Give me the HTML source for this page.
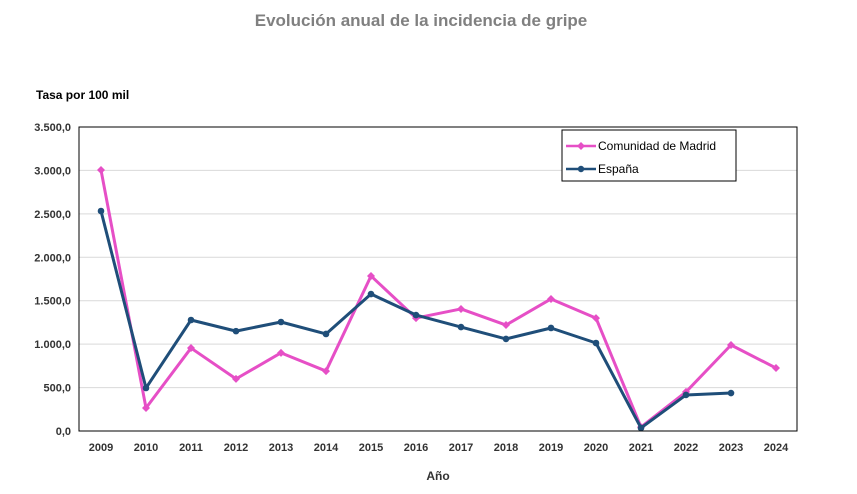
<!DOCTYPE html>
<html><head><meta charset="utf-8"><style>
body{margin:0;background:#fff;font-family:"Liberation Sans",Arial,sans-serif}
</style></head><body>
<svg id="c" width="857" height="489" font-family="Liberation Sans, Arial, sans-serif">
<text x="421" y="26" text-anchor="middle" font-size="17" font-weight="bold" fill="#808080">Evolución anual de la incidencia de gripe</text>
<text x="36" y="99" font-size="12" font-weight="bold" fill="#000">Tasa por 100 mil</text>
<text x="438" y="480" text-anchor="middle" font-size="12" font-weight="bold" fill="#333">Año</text>
<g id="grid"></g><g id="axes"></g><g id="series"></g>
<rect x="79" y="127" width="718" height="304" fill="none" stroke="#000" stroke-width="1"/>
<g>
<rect x="562" y="130" width="174" height="51" fill="#fff" stroke="#000"/>
<g><line x1="566" y1="146" x2="596" y2="146" stroke="#E64FC6" stroke-width="2.5"/><path d="M581 142 L585 146 L581 150 L577 146Z" fill="#E64FC6"/><text x="598" y="150" font-size="12" fill="#000">Comunidad de Madrid</text></g>
<g><line x1="566" y1="169" x2="596" y2="169" stroke="#1F4E79" stroke-width="2.5"/><circle cx="581" cy="169" r="3.2" fill="#1F4E79"/><text x="598" y="173" font-size="12" fill="#000">España</text></g>
</g>
</svg>
<script>
const years=["2009","2010","2011","2012","2013","2014","2015","2016","2017","2018","2019","2020","2021","2022","2023","2024"];
const madrid=[3005,265,955,600,900,690,1785,1300,1405,1220,1520,1300,45,450,990,725];
const espana=[2533,495,1278,1150,1255,1117,1577,1335,1197,1060,1186,1013,35,415,437];
const yTicks=[0,500,1000,1500,2000,2500,3000,3500];
const yLabels=["0,0","500,0","1.000,0","1.500,0","2.000,0","2.500,0","3.000,0","3.500,0"];
const NS="http://www.w3.org/2000/svg";
const x0=79,x1=797,y0=431,y1=127;
const xs=i=>x0+22+i*45;
const ys=v=>y0-(v/3500)*(y0-y1);
function mk(t,a,p){const e=document.createElementNS(NS,t);for(const k in a)e.setAttribute(k,a[k]);p.appendChild(e);return e;}
const grid=document.getElementById('grid'),axes=document.getElementById('axes'),ser=document.getElementById('series');
yTicks.forEach((v,i)=>{
 const l=mk('line',{x1:x0,x2:x1,y1:ys(v),y2:ys(v),stroke:'#d9d9d9'},grid);
 
 
 const t=mk('text',{x:71,y:ys(v)+4,'text-anchor':'end','font-size':11,'font-weight':'bold',fill:'#333'},axes);
 t.textContent=yLabels[i];
 
 
});
years.forEach((y,i)=>{
 const t=mk('text',{x:xs(i),y:451,'text-anchor':'middle','font-size':11,'font-weight':'bold',fill:'#333'},axes);
 t.textContent=y;
 
 
});
function line(data,color,name,marker){
 const g=mk('g',{},ser);
 
 
 const p=mk('polyline',{points:data.map((v,i)=>xs(i)+','+ys(v)).join(' '),fill:'none',stroke:color,'stroke-width':3,'stroke-linejoin':'round'},g);
 
 
 data.forEach((v,i)=>{
  let m;
  if(marker==='d'){const x=xs(i),y=ys(v);m=mk('path',{d:`M${x} ${y-4}L${x+4} ${y}L${x} ${y+4}L${x-4} ${y}Z`,fill:color},g);}
  else m=mk('circle',{cx:xs(i),cy:ys(v),r:3.3,fill:color},g);
  
  
 });
}
line(madrid,'#E64FC6','series-madrid','d');
line(espana,'#1F4E79','series-espana','c');
</script>
</body></html>
